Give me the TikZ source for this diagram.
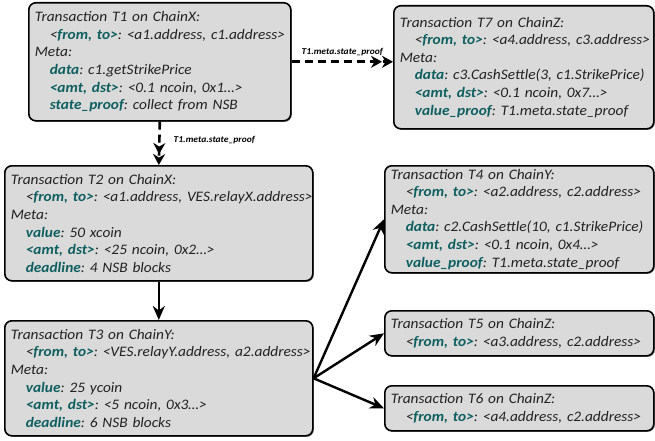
\documentclass[tikz,border=0pt]{standalone}
\usepackage{fontspec}
\setmainfont{Carlito}[FakeStretch=1.06]
\usetikzlibrary{arrows.meta,shadows}
\definecolor{kwc}{HTML}{0F5F5F}
\definecolor{boxfill}{HTML}{DADADA}
\definecolor{txtc}{HTML}{222222}
\newcommand{\kwd}[1]{\textcolor{kwc}{\textbf{#1}}}
\newcommand{\ind}[1]{\mbox{\hspace*{15pt}#1}}
\begin{document}
\frenchspacing
\begin{tikzpicture}[x=1pt,y=-1pt,
  txbox/.style={draw=black, line width=1.6pt, rounded corners=7pt, fill=boxfill,
    align=left, anchor=north west, inner xsep=6pt, inner ysep=3pt,
    font=\itshape\fontsize{14.5}{17.6}\selectfont, text=txtc,
    execute at begin node={\frenchspacing\hbadness=10000\hfuzz=50pt},
    drop shadow={shadow xshift=1pt, shadow yshift=-1pt, opacity=0.5, fill=black}},
  solidarr/.style={line width=2.4pt, -{Stealth[length=14pt,width=12pt]}},
  dasharr/.style={line width=2.6pt, dash pattern=on 8pt off 5pt,
    -{Stealth[length=11pt,width=12pt]Stealth[length=11pt,width=12pt]}},
  lbl/.style={font=\bfseries\itshape\fontsize{9}{10}\selectfont, text=black, inner sep=1pt}]
\useasboundingbox (0,0) rectangle (655,441);
\fill[white] (0,0) rectangle (655,441);

\node[txbox, text width=250pt, minimum height=118pt] (T1) at (28,2)
 {Transaction T1 on ChainX:\\
  \ind{<\kwd{from, to>}: <a1.address, c1.address>}\\
  Meta:\\
  \ind{\kwd{data}: c1.getStrikePrice}\\
  \ind{\kwd{<amt, dst>}: <0.1 ncoin, 0x1\ldots>}\\
  \ind{\kwd{state\_proof}: collect from NSB}};

\node[txbox, text width=248pt, minimum height=123pt] (T7) at (393,5)
 {Transaction T7 on ChainZ:\\
  \ind{<\kwd{from, to>}: <a4.address, c3.address>}\\
  Meta:\\
  \ind{\kwd{data}: c3.CashSettle(3, c1.StrikePrice)}\\
  \ind{\kwd{<amt, dst>}: <0.1 ncoin, 0x7\ldots>}\\
  \ind{\kwd{value\_proof}: T1.meta.state\_proof}};

\node[txbox, text width=296pt, minimum height=115pt] (T2) at (4,165)
 {Transaction T2 on ChainX:\\
  \ind{<\kwd{from, to>}: <a1.address, VES.relayX.address>}\\
  Meta:\\
  \ind{\kwd{value}: 50 xcoin}\\
  \ind{\kwd{<amt, dst>}: <25 ncoin, 0x2\ldots>}\\
  \ind{\kwd{deadline}: 4 NSB blocks}};

\node[txbox, text width=296pt, minimum height=115pt] (T3) at (4,320)
 {Transaction T3 on ChainY:\\
  \ind{<\kwd{from, to>}: <VES.relayY.address, a2.address>}\\
  Meta:\\
  \ind{\kwd{value}: 25 ycoin}\\
  \ind{\kwd{<amt, dst>}: <5 ncoin, 0x3\ldots>}\\
  \ind{\kwd{deadline}: 6 NSB blocks}};

\node[txbox, text width=257pt, minimum height=107pt] (T4) at (384,165)
 {Transaction T4 on ChainY:\\
  \ind{<\kwd{from, to>}: <a2.address, c2.address>}\\
  Meta:\\
  \ind{\kwd{data}: c2.CashSettle(10, c1.StrikePrice)}\\
  \ind{\kwd{<amt, dst>}: <0.1 ncoin, 0x4\ldots>}\\
  \ind{\kwd{value\_proof}: T1.meta.state\_proof}};

\node[txbox, text width=257pt, minimum height=45pt] (T5) at (384,310)
 {Transaction T5 on ChainZ:\\
  \ind{<\kwd{from, to>}: <a3.address, c2.address>}};

\node[txbox, text width=257pt, minimum height=45pt] (T6) at (384,385)
 {Transaction T6 on ChainZ:\\
  \ind{<\kwd{from, to>}: <a4.address, c2.address>}};

\draw[dasharr] (T1.east) -- (T1.east -| T7.west)
  node[lbl, pos=0.5, above=4pt] {T1.meta.state\_proof};
\draw[dasharr] (T1.south) -- (T2.north)
  node[lbl, pos=0.42, right=12pt] {T1.meta.state\_proof};
\draw[solidarr] (T2.south) -- (T3.north);
\draw[solidarr] (T3.east) -- (T4.west);
\draw[solidarr] (T3.east) -- (T5.west);
\draw[solidarr] (T3.east) -- (T6.west);
\end{tikzpicture}
\end{document}
